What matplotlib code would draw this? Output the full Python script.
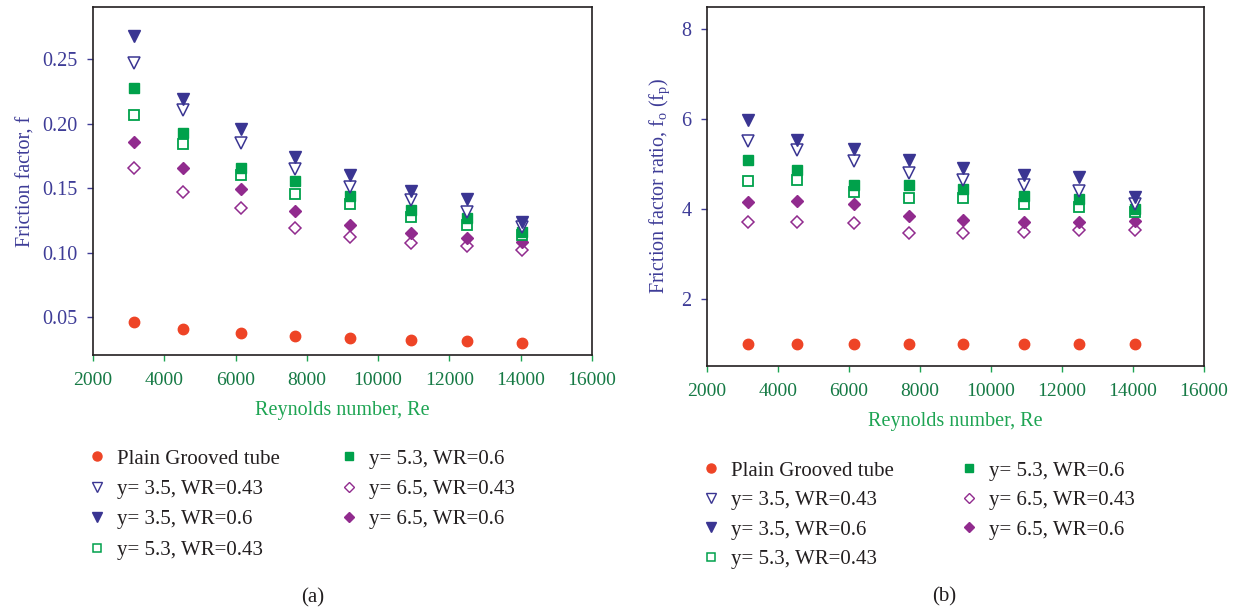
import matplotlib
matplotlib.use("Agg")
import matplotlib.pyplot as plt
from matplotlib.lines import Line2D

plt.rcParams['font.family'] = ['Liberation Serif', 'DejaVu Serif']
plt.rcParams['mathtext.fontset'] = 'custom'
plt.rcParams['mathtext.rm'] = 'Liberation Serif'
plt.rcParams['mathtext.it'] = 'Liberation Serif'

# ---------------- data ----------------
re = [3150, 4530, 6140, 7680, 9210, 10920, 12490, 14050]

labels = ["Plain Grooved tube", "y= 3.5, WR=0.43", "y= 3.5, WR=0.6",
          "y= 5.3, WR=0.43", "y= 5.3, WR=0.6", "y= 6.5, WR=0.43", "y= 6.5, WR=0.6"]

# (a) friction factor f
f_plain   = [0.0458, 0.0406, 0.0373, 0.0352, 0.0336, 0.0321, 0.0313, 0.0300]
f_35_043  = [0.247, 0.2106, 0.185, 0.1646, 0.1511, 0.1408, 0.1312, 0.1196]
f_35_06   = [0.268, 0.2194, 0.1957, 0.1744, 0.160, 0.1477, 0.1413, 0.1234]
f_53_043  = [0.2068, 0.184, 0.160, 0.1454, 0.1377, 0.1278, 0.1211, 0.114]
f_53_06   = [0.2275, 0.193, 0.1654, 0.1553, 0.1441, 0.133, 0.1266, 0.1159]
f_65_043  = [0.1654, 0.1467, 0.1343, 0.1188, 0.1123, 0.1076, 0.1053, 0.1017]
f_65_06   = [0.186, 0.1654, 0.1495, 0.1322, 0.1217, 0.1149, 0.111, 0.1079]

# (b) friction factor ratio f0/fp
r_plain   = [1.0, 1.0, 1.0, 1.0, 1.0, 1.0, 1.0, 1.0]
r_35_043  = [5.52, 5.31, 5.06, 4.79, 4.65, 4.53, 4.39, 4.10]
r_35_06   = [5.98, 5.53, 5.34, 5.08, 4.91, 4.75, 4.72, 4.27]
r_53_043  = [4.62, 4.64, 4.38, 4.24, 4.24, 4.12, 4.05, 3.94]
r_53_06   = [5.08, 4.87, 4.53, 4.53, 4.44, 4.28, 4.23, 4.00]
r_65_043  = [3.70, 3.72, 3.68, 3.47, 3.47, 3.48, 3.53, 3.53]
r_65_06   = [4.16, 4.17, 4.10, 3.85, 3.75, 3.70, 3.72, 3.74]

x_ticks = [2000, 4000, 6000, 8000, 10000, 12000, 14000, 16000]
ya_ticks = [0.05, 0.10, 0.15, 0.20, 0.25]
yb_ticks = [2, 4, 6, 8]

# ---------------- styles ----------------
RED = "#EE4426"
NAVY = "#3A3592"
GREEN = "#00A14B"
PURPLE = "#912B8E"
TICK_Y = "#3E3C97"
TICK_X = "#167A45"
LAB_X = "#1EA453"

styles = [
    dict(marker="o", ms=7.5, mfc=RED, mec=RED),
    dict(marker="v", ms=8.5, mfc="white", mec=NAVY, mew=1.1),
    dict(marker="v", ms=8.5, mfc=NAVY, mec=NAVY),
    dict(marker="s", ms=7, mfc="white", mec=GREEN, mew=1.3),
    dict(marker="s", ms=7, mfc=GREEN, mec=GREEN),
    dict(marker="D", ms=6.5, mfc="white", mec=PURPLE, mew=1.1),
    dict(marker="D", ms=6.5, mfc=PURPLE, mec=PURPLE),
]
leg_styles = [
    dict(marker="o", ms=6.5, mfc=RED, mec=RED),
    dict(marker="v", ms=6.5, mfc="white", mec=NAVY, mew=1.0),
    dict(marker="v", ms=6.5, mfc=NAVY, mec=NAVY),
    dict(marker="s", ms=5.5, mfc="white", mec=GREEN, mew=1.1),
    dict(marker="s", ms=5.5, mfc=GREEN, mec=GREEN),
    dict(marker="D", ms=5.5, mfc="white", mec=PURPLE, mew=1.0),
    dict(marker="D", ms=5.5, mfc=PURPLE, mec=PURPLE),
]

fig = plt.figure(figsize=(12.53, 6.12), dpi=100)
W, H = 1253.0, 612.0

def px_axes(x0, y0, x1, y1):
    return fig.add_axes([x0 / W, 1 - y1 / H, (x1 - x0) / W, (y1 - y0) / H])

axA = px_axes(93, 7, 592, 355)
axB = px_axes(707, 7, 1204, 366)

seriesA = [f_plain, f_35_043, f_35_06, f_53_043, f_53_06, f_65_043, f_65_06]
seriesB = [r_plain, r_35_043, r_35_06, r_53_043, r_53_06, r_65_043, r_65_06]
draw_order = [0, 5, 6, 3, 4, 1, 2]

def setup(ax, ylim, yticks, yfmt):
    ax.set_xlim(2000, 16000)
    ax.set_ylim(*ylim)
    ax.set_xticks(x_ticks)
    ax.set_xticklabels([str(v) for v in x_ticks])
    ax.set_yticks(yticks)
    ax.set_yticklabels([yfmt.format(v) for v in yticks])
    ax.tick_params(axis="x", direction="out", length=4, width=1.0, color=LAB_X,
                   labelcolor=TICK_X, labelsize=14, pad=8)
    ax.tick_params(axis="y", direction="out", length=4, width=1.0, color=TICK_Y,
                   labelcolor=TICK_Y, labelsize=14.5, pad=7)
    for s in ax.spines.values():
        s.set_color("#231F20")
        s.set_linewidth(1.2)

for ax, series in ((axA, seriesA), (axB, seriesB)):
    for i in draw_order:
        ax.plot(re, series[i], linestyle="none", **styles[i])

setup(axA, (0.0205, 0.2906), ya_ticks, "{:.2f}")
setup(axB, (0.5, 8.5), yb_ticks, "{:d}")

axA.set_xlabel("Reynolds number, Re", color=LAB_X, fontsize=14.5, labelpad=9)
axB.set_xlabel("Reynolds number, Re", color=LAB_X, fontsize=14.5, labelpad=9)
axA.set_ylabel("Friction factor, f", color=TICK_Y, fontsize=14.5, labelpad=5)
axB.set_ylabel(r"Friction factor ratio, f$_\mathrm{o}$ (f$_\mathrm{p}$)", color=TICK_Y,
               fontsize=14.5, labelpad=7)

# legends
def legend(loc_px, spacing, lsp):
    handles = [Line2D([], [], linestyle="none", **leg_styles[i]) for i in range(7)]
    lg = fig.legend(handles, labels,
                    ncol=2, loc="upper left",
                    bbox_to_anchor=(loc_px[0] / W, 1 - loc_px[1] / H),
                    frameon=False, fontsize=15, handlelength=0.8,
                    handletextpad=0.56, columnspacing=spacing, labelspacing=lsp,
                    borderaxespad=0, borderpad=0)
    for t in lg.get_texts():
        t.set_color("#231F20")
    return lg

legend((89, 449), 2.9, 0.52)
legend((703, 461), 3.2, 0.48)

fig.text(313 / W, 1 - 598 / H, "(a)", ha="center", va="center", fontsize=15, color="#231F20")
fig.text(944 / W, 1 - 597 / H, "(b)", ha="center", va="center", fontsize=15, color="#231F20")

fig.savefig("out.png", dpi=100)
